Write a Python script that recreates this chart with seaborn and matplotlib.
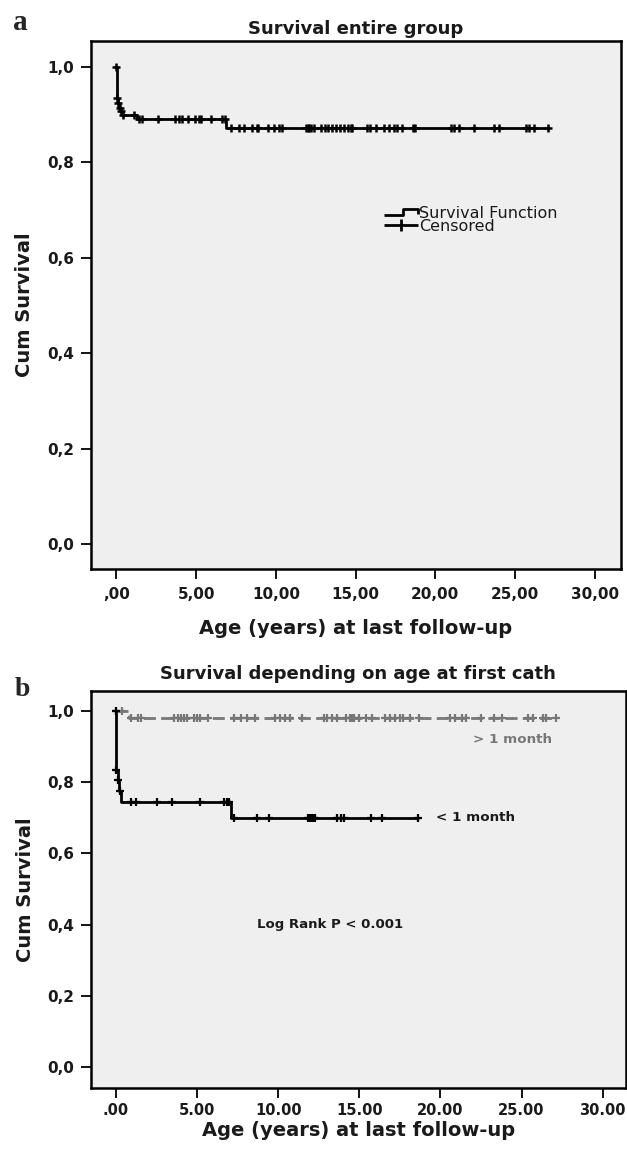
import numpy as np
import pandas as pd
import matplotlib
matplotlib.use("Agg")
import matplotlib.pyplot as plt
from matplotlib.lines import Line2D
from matplotlib.path import Path
import seaborn as sns

# ---------------- data ----------------
# Panel a: Kaplan-Meier step (event times / survival after event)
a_event_t = [0.0, 0.02, 0.08, 0.15, 0.25, 0.35, 1.3, 6.9]
a_event_s = [1.0, 0.935, 0.925, 0.915, 0.908, 0.90, 0.89, 0.873]
a_end_t = 27.1
a_censor_t = [0.0, 0.05, 0.1, 0.2, 0.3, 0.4, 1.08, 1.4, 1.6, 2.6, 3.7, 3.9, 4.1, 4.5,
              4.9, 5.2, 5.3, 5.9, 6.6, 6.8, 7.2, 7.7, 8.0, 8.5, 8.8, 8.9, 9.5, 9.9,
              10.2, 10.4, 11.9, 12.0, 12.1, 12.2, 12.4, 12.8, 13.1, 13.3, 13.5, 13.8,
              14.0, 14.3, 14.5, 14.7, 14.8, 15.7, 15.9, 16.3, 16.8, 17.1, 17.4, 17.6,
              17.9, 18.6, 18.7, 21.0, 21.2, 21.5, 22.4, 23.7, 24.0, 25.7, 25.9, 26.2,
              27.1]

# Panel b: > 1 month group
g_event_t = [0.0, 0.8]
g_event_s = [1.0, 0.98]
g_end_t = 27.1
g_censor_t = [0.0, 0.4, 0.95, 1.37, 1.58, 3.6, 3.8, 4.0, 4.2, 4.4, 4.8, 5.0, 5.2, 5.7,
              7.3, 7.7, 8.1, 8.6, 9.8, 10.1, 10.4, 10.7, 11.5, 12.8, 13.0, 13.3, 13.6,
              14.2, 14.4, 14.5, 14.6, 14.7, 15.0, 15.4, 15.8, 16.6, 16.9, 17.2, 17.5,
              17.7, 18.1, 18.7, 20.6, 20.9, 21.3, 21.6, 22.5, 23.3, 23.8, 25.4, 25.7,
              26.3, 26.5, 27.1]
# Panel b: < 1 month group
k_event_t = [0.0, 0.02, 0.12, 0.2, 0.3, 7.1]
k_event_s = [1.0, 0.835, 0.805, 0.775, 0.745, 0.70]
k_end_t = 18.61
k_censor_t = [0.0, 0.03, 0.15, 0.25, 0.95, 1.27, 2.54, 3.49, 5.18, 6.66, 6.87, 6.97,
              7.29, 8.67, 9.41, 11.84, 11.95, 12.05, 12.16, 12.26, 13.64, 13.85, 14.06,
              15.75, 16.39, 18.61]

y_ticks = [0.0, 0.2, 0.4, 0.6, 0.8, 1.0]
y_ticklabels = ["0,0", "0,2", "0,4", "0,6", "0,8", "1,0"]
x_ticks = [0, 5, 10, 15, 20, 25, 30]
x_ticklabels_a = [",00", "5,00", "10,00", "15,00", "20,00", "25,00", "30,00"]
x_ticklabels_b = [".00", "5.00", "10.00", "15.00", "20.00", "25.00", "30.00"]


def step_df(ev_t, ev_s, end_t):
    t = list(ev_t) + [end_t]
    s = list(ev_s) + [ev_s[-1]]
    return pd.DataFrame({"t": t, "s": s})


def censor_df(ev_t, ev_s, c_t):
    idx = np.searchsorted(np.array(ev_t), np.array(c_t), side="right") - 1
    return pd.DataFrame({"t": c_t, "s": np.array(ev_s)[idx]})


sns.set_theme(style="white")
plt.rcParams["font.family"] = ["DejaVu Sans"]

fig = plt.figure(figsize=(6.27, 11.53), dpi=100)
W, H = 627, 1153
ax_a = fig.add_axes([90.5 / W, 1 - 569 / H, 530.5 / W, 528.3 / H])
ax_b = fig.add_axes([91 / W, 1 - 1088 / H, 534.5 / W, 397 / H])

txt = "#1a1a1a"
bg = "#efefef"
for ax, xpad, xls in ((ax_a, 6, 11), (ax_b, 4, 10.5)):
    ax.set_facecolor(bg)
    for sp in ax.spines.values():
        sp.set_visible(True)
        sp.set_color("black")
        sp.set_linewidth(1.8)
    ax.tick_params(axis="both", direction="out", length=7, width=1.3, color="black",
                   labelsize=11, labelcolor=txt, bottom=True, left=True)
    ax.tick_params(axis="y", pad=5)
    ax.tick_params(axis="x", pad=xpad, labelsize=xls)
    ax.set_yticks(y_ticks)
    ax.set_yticklabels(y_ticklabels, fontweight="bold")
    ax.set_xticks(x_ticks)

# ---- panel a ----
sa = step_df(a_event_t, a_event_s, a_end_t)
ca = censor_df(a_event_t, a_event_s, a_censor_t)
sns.lineplot(data=sa, x="t", y="s", ax=ax_a, drawstyle="steps-post", estimator=None,
             sort=False, color="black", linewidth=2.0)
sns.scatterplot(data=ca, x="t", y="s", ax=ax_a, marker="+", s=40, color="black",
                linewidth=1.8, zorder=3)
ax_a.set_xlim(-1.63, 31.65)
ax_a.set_ylim(-0.052, 1.055)
ax_a.set_xticklabels(x_ticklabels_a, fontweight="bold")
ax_a.set_xlabel("Age (years) at last follow-up", fontsize=14, fontweight="bold",
                color=txt, labelpad=12)
ax_a.set_ylabel("Cum Survival", fontsize=14, fontweight="bold", color=txt,
                labelpad=9)
ax_a.set_title("Survival entire group", fontsize=13, fontweight="bold",
               color=txt, pad=5)

step_path = Path([(-1.0, -0.2), (0.1, -0.2), (0.1, 0.2), (1.0, 0.2), (1.0, -0.1)],
                 [Path.MOVETO, Path.LINETO, Path.LINETO, Path.LINETO, Path.LINETO])
plus_path = Path([(-1.0, 0.0), (1.0, 0.0), (0.0, -0.35), (0.0, 0.35)],
                 [Path.MOVETO, Path.LINETO, Path.MOVETO, Path.LINETO])
h1 = Line2D([], [], linestyle="None", marker=step_path, markersize=24,
            markerfacecolor="none", markeredgecolor="black", markeredgewidth=2.0)
h2 = Line2D([], [], linestyle="None", marker=plus_path, markersize=24,
            markerfacecolor="none", markeredgecolor="black", markeredgewidth=2.0)
ax_a.legend([h1, h2], ["Survival Function", "Censored"], loc="center left",
            bbox_to_anchor=(0.555, 0.661), frameon=False, fontsize=11.5,
            handlelength=2.0, handletextpad=0.15, labelspacing=-0.1, borderpad=0,
            borderaxespad=0, labelcolor=txt)

# ---- panel b ----
sg = step_df(g_event_t, g_event_s, g_end_t)
cg = censor_df(g_event_t, g_event_s, g_censor_t)
sk = step_df(k_event_t, k_event_s, k_end_t)
ck = censor_df(k_event_t, k_event_s, k_censor_t)
gray = "#777777"
sns.lineplot(data=sg, x="t", y="s", ax=ax_b, drawstyle="steps-post", estimator=None,
             sort=False, color=gray, linewidth=2.0)
ax_b.lines[-1].set_dashes([4.3, 1.9])
sns.scatterplot(data=cg, x="t", y="s", ax=ax_b, marker="+", s=28, color=gray,
                linewidth=1.6, zorder=3)
sns.lineplot(data=sk, x="t", y="s", ax=ax_b, drawstyle="steps-post", estimator=None,
             sort=False, color="black", linewidth=2.0)
sns.scatterplot(data=ck, x="t", y="s", ax=ax_b, marker="+", s=28, color="black",
                linewidth=1.6, zorder=3)
ax_b.set_xlim(-1.53, 31.4)
ax_b.set_ylim(-0.059, 1.056)
ax_b.set_xticklabels(x_ticklabels_b, fontweight="bold")
ax_b.set_xlabel("Age (years) at last follow-up", fontsize=14, fontweight="bold",
                color=txt, labelpad=2)
ax_b.set_ylabel("Cum Survival", fontsize=14, fontweight="bold", color=txt,
                labelpad=9)
ax_b.set_title("Survival depending on age at first cath", fontsize=13,
               fontweight="bold", color=txt, pad=8.5)
ax_b.text(26.9, 0.92, "> 1 month", ha="right", va="center", fontsize=9.7,
          fontweight="bold", color=gray)
ax_b.text(19.7, 0.70, "< 1 month", ha="left", va="center", fontsize=9.7,
          fontweight="bold", color=txt)
ax_b.text(8.67, 0.40, "Log Rank P < 0.001", ha="left", va="center", fontsize=9.5,
          fontweight="bold", color=txt)

fig.text(13 / W, 1 - 22 / H, "a", fontsize=21, fontweight="bold",
         family=["Liberation Serif"], ha="left", va="center")
fig.text(15 / W, 1 - 690 / H, "b", fontsize=20, fontweight="bold",
         family=["Liberation Serif"], ha="left", va="center")

fig.savefig("out.png", dpi=100, facecolor="white")
